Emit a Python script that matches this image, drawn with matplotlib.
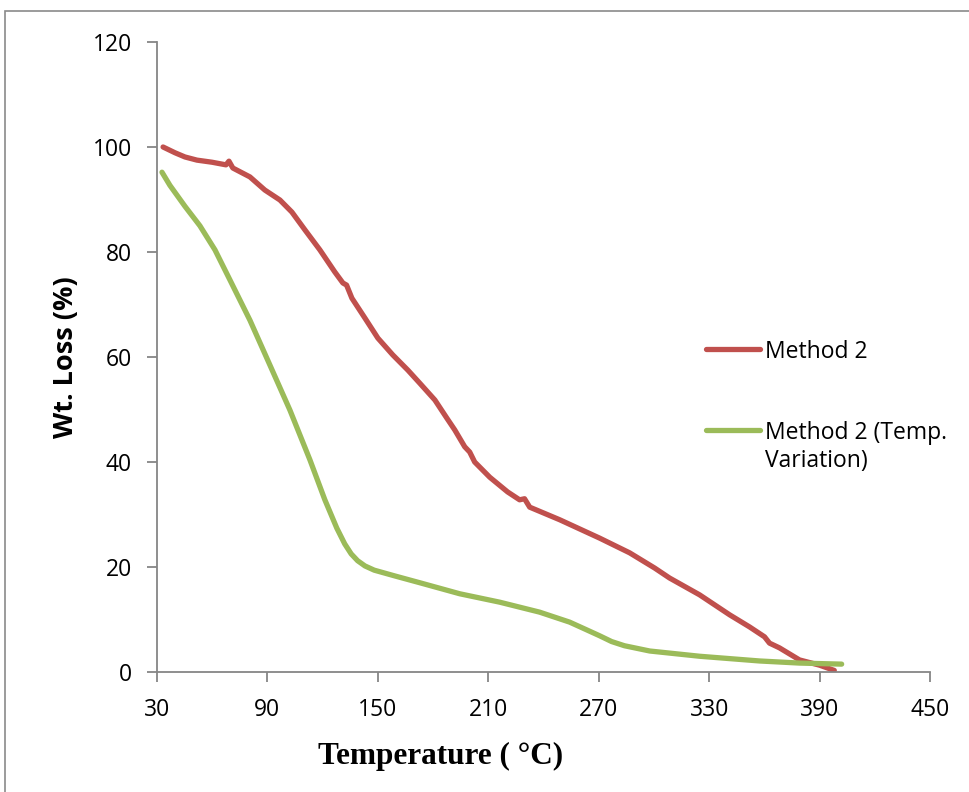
import matplotlib
matplotlib.use("Agg")
import matplotlib.pyplot as plt
from matplotlib.patches import Rectangle
from matplotlib.lines import Line2D

red_x = [33.3, 39.8, 45.2, 51.7, 59.9, 67.5, 69.1, 71.2, 80.5, 88.6, 96.8, 103.3, 110.4,
         118.5, 126.6, 131.0, 133.0, 135.9, 143.0, 150.0, 158.1, 166.3, 172.8, 181.0,
         187.4, 191.8, 197.2, 199.9, 202.6, 210.8, 220.5, 227.0, 229.7, 232.5, 248.8,
         270.5, 286.8, 300.4, 308.5, 324.8, 341.1, 351.9, 360.1, 362.8, 368.2, 379.1,
         390.0, 398.0]
red_y = [100.0, 98.9, 98.1, 97.5, 97.1, 96.6, 97.3, 96.0, 94.3, 91.8, 89.9, 87.6, 84.2,
         80.4, 76.2, 74.1, 73.7, 71.2, 67.4, 63.6, 60.4, 57.5, 55.0, 51.8,
         48.4, 46.1, 42.9, 41.9, 40.0, 37.1, 34.3, 32.8, 33.0, 31.4, 29.0,
         25.5, 22.7, 19.8, 17.9, 14.7, 10.9, 8.6, 6.7, 5.5, 4.6, 2.3,
         1.3, 0.3]

green_x = [32.7, 37.0, 45.2, 53.3, 61.5, 69.6, 80.5, 91.3, 102.2, 113.1, 121.2, 127.7,
           132.0, 135.5, 139.0, 143.0, 148.0, 159.2, 172.8, 194.5, 216.2, 237.9, 254.2,
           263.0, 270.5, 277.0, 284.0, 297.7, 324.8, 357.4, 379.1, 402.0]
green_y = [95.2, 92.7, 88.7, 85.0, 80.4, 74.7, 67.0, 58.5, 49.9, 40.4, 32.8, 27.4,
           24.4, 22.5, 21.2, 20.2, 19.4, 18.3, 17.0, 14.9, 13.3, 11.4, 9.5,
           8.1, 6.9, 5.8, 5.0, 4.0, 3.0, 2.1, 1.7, 1.5]

labels = ["Method 2", "Method 2 (Temp.\nVariation)"]
colors = ["#C0504D", "#9BBB59"]
x_ticks = [30, 90, 150, 210, 270, 330, 390, 450]
y_ticks = [0, 20, 40, 60, 80, 100, 120]

W, H = 969, 792
fig = plt.figure(figsize=(W / 100, H / 100), dpi=100)
fig.patches.append(Rectangle((5 / W, -0.1), 1.2, (H - 11) / H + 0.1, transform=fig.transFigure,
                             fill=False, edgecolor="#8a8a8a", linewidth=1.2))
ax = fig.add_axes([157 / W, (H - 672) / H, (930 - 157) / W, (672 - 42) / H])

ax.plot(red_x, red_y, color=colors[0], lw=3.8, solid_capstyle="round",
        solid_joinstyle="round")
ax.plot(green_x, green_y, color=colors[1], lw=3.8, solid_capstyle="round",
        solid_joinstyle="round")

ax.set_xlim(30, 450)
ax.set_ylim(0, 120)
ax.set_xticks(x_ticks)
ax.set_yticks(y_ticks)
for s in ["top", "right"]:
    ax.spines[s].set_visible(False)
for s in ["left", "bottom"]:
    ax.spines[s].set_color("#868686")
    ax.spines[s].set_linewidth(1.3)
ax.tick_params(axis="both", colors="#868686", length=7, width=1.3, labelcolor="black",
               labelsize=16.5)
ax.tick_params(axis="y", pad=11)
ax.tick_params(axis="x", pad=12)
for t in ax.get_xticklabels() + ax.get_yticklabels():
    t.set_fontfamily("Open Sans")

ax.set_xlabel("Temperature ( °C)", family="Liberation Serif", fontweight="bold",
              fontsize=22.5)
ax.xaxis.set_label_coords((441 - 157) / (930 - 157), -(756 - 672) / (672 - 42))
ax.xaxis.label.set_va("center")
ax.set_ylabel("Wt. Loss (%)", family="Open Sans", fontweight="bold", fontsize=19.5)
ax.yaxis.set_label_coords(-(157 - 66) / (930 - 157), 0.5)
ax.yaxis.label.set_va("center")

# legend (Excel-style: handle aligned with first text line)
leg_y = [349, 430]
for lab, col, yy in zip(labels, colors, leg_y):
    fig.add_artist(Line2D([706 / W, 760 / W], [1 - yy / H, 1 - yy / H], color=col, lw=3.8,
                          solid_capstyle="round", transform=fig.transFigure))
    fig.text(765 / W, 1 - (yy - 9) / H, lab, family="Open Sans", fontsize=16.5,
             va="top", ha="left", linespacing=1.2)

fig.savefig("out.png", dpi=100)
